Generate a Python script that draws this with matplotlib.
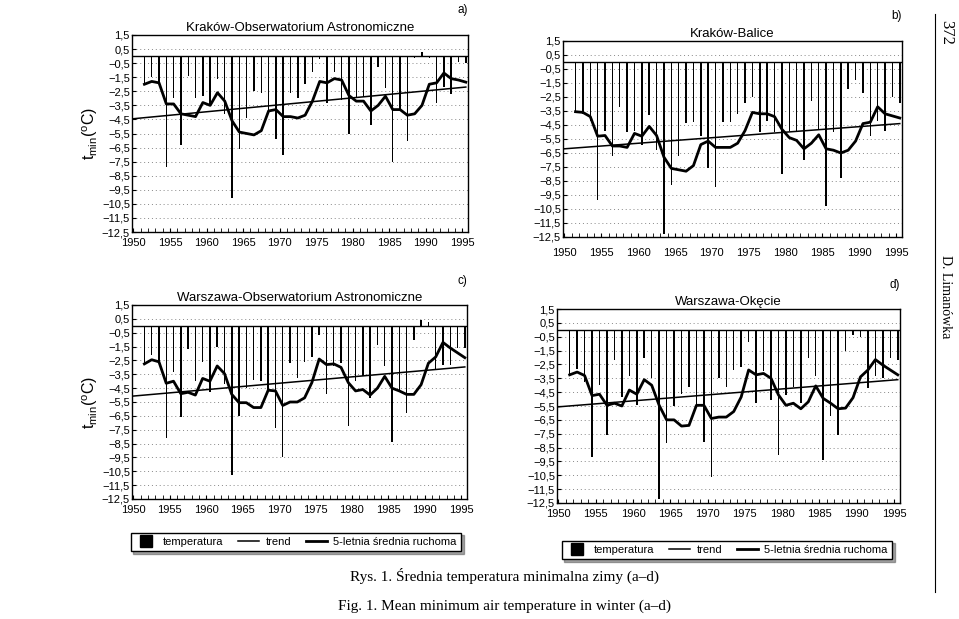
import matplotlib.pyplot as plt
import numpy as np
from matplotlib.lines import Line2D

plt.rcParams['font.family'] = ['Liberation Sans', 'DejaVu Sans']

# winters 1951..1995
years = np.arange(1951, 1996)

# a) Krakow - Obserwatorium Astronomiczne
temp_a = [-2.0, -1.5, -2.0, -7.9, -3.0, -6.3, -1.4, -3.0, -2.8, -3.4,
          -1.6, -4.1, -10.1, -6.6, -4.4, -2.5, -2.6, -3.9, -5.9, -7.0,
          -2.6, -3.0, -2.0, -1.1, -0.2, -3.3, -1.1, -3.1, -5.5, -2.9,
          -2.9, -4.9, -0.8, -2.3, -7.5, -3.9, -6.0, -0.1, 0.3, -0.1,
          -3.3, -2.2, -2.7, -0.4, -0.5]
ma_a = [-2.0, -1.8, -1.9, -3.4, -3.4, -4.1, -4.2, -4.3, -3.3, -3.5,
        -2.6, -3.2, -4.6, -5.4, -5.5, -5.6, -5.3, -3.9, -3.8, -4.3,
        -4.3, -4.4, -4.2, -3.2, -1.8, -1.9, -1.6, -1.7, -2.8, -3.2,
        -3.2, -3.9, -3.5, -2.85, -3.8, -3.8, -4.2, -4.1, -3.5, -2.0,
        -1.9, -1.2, -1.6, -1.7, -1.85]
trend_a = [-4.45, -2.2]

# b) Krakow - Balice
temp_b = [-3.55, -3.7, -4.2, -9.85, -4.9, -6.7, -3.2, -5.0, -4.9, -5.9,
          -3.8, -6.3, -12.3, -8.8, -6.7, -4.35, -4.25, -5.3, -7.6, -8.9,
          -4.3, -4.3, -3.7, -2.9, -2.5, -5.0, -4.2, -5.0, -8.0, -4.9,
          -4.9, -7.0, -2.8, -4.8, -10.3, -5.0, -8.3, -1.9, -1.3, -2.2,
          -5.3, -4.2, -4.9, -2.5, -2.9]
ma_b = [-3.55, -3.6, -3.9, -5.3, -5.25, -6.0, -6.0, -6.1, -5.1, -5.3,
        -4.6, -5.25, -6.8, -7.6, -7.7, -7.8, -7.4, -5.9, -5.65, -6.1,
        -6.1, -6.1, -5.8, -4.9, -3.6, -3.7, -3.7, -3.9, -4.8, -5.4,
        -5.6, -6.2, -5.8, -5.2, -6.2, -6.3, -6.5, -6.3, -5.65, -4.4,
        -4.3, -3.2, -3.7, -3.85, -4.0]
trend_b = [-6.2, -4.4]

# c) Warszawa - Obserwatorium Astronomiczne
temp_c = [-2.8, -2.1, -2.6, -8.1, -3.3, -6.6, -1.7, -4.0, -2.6, -4.8,
          -1.5, -4.2, -10.8, -6.5, -4.5, -3.9, -4.0, -4.8, -7.35, -9.5,
          -2.7, -3.8, -2.6, -2.25, -0.65, -4.9, -2.9, -2.7, -7.2, -4.0,
          -3.6, -5.2, -1.4, -2.9, -8.4, -4.6, -6.3, -1.0, 0.4, 0.25,
          -3.2, -2.8, -2.8, -1.6, -1.6]
ma_c = [-2.75, -2.45, -2.6, -4.15, -4.0, -4.9, -4.8, -5.0, -3.8, -4.0,
        -2.9, -3.45, -4.95, -5.55, -5.55, -5.9, -5.9, -4.65, -4.7, -5.75,
        -5.5, -5.5, -5.2, -4.1, -2.4, -2.8, -2.75, -3.0, -4.1, -4.7,
        -4.6, -5.0, -4.5, -3.65, -4.5, -4.7, -4.95, -4.95, -4.25, -2.7,
        -2.25, -1.2, -1.6, -1.95, -2.3]
trend_c = [-5.07, -2.97]

# d) Warszawa - Okecie
temp_d = [-3.25, -2.8, -3.75, -9.2, -4.0, -7.6, -2.15, -4.85, -3.35, -5.45,
          -2.0, -3.5, -12.2, -8.2, -5.5, -4.6, -4.15, -5.55, -8.1, -10.6,
          -3.5, -4.1, -2.9, -2.65, -0.9, -5.3, -3.0, -5.1, -9.05, -4.7,
          -4.1, -5.3, -2.0, -3.35, -9.4, -6.2, -7.6, -1.55, -0.35, -0.5,
          -4.2, -3.35, -3.5, -2.05, -2.2]
ma_d = [-3.25, -3.05, -3.3, -4.75, -4.65, -5.45, -5.3, -5.5, -4.35, -4.65,
        -3.6, -4.0, -5.45, -6.5, -6.5, -6.95, -6.9, -5.45, -5.45, -6.4,
        -6.3, -6.3, -5.9, -4.85, -2.9, -3.25, -3.15, -3.5, -4.7, -5.45,
        -5.3, -5.7, -5.2, -4.05, -4.95, -5.3, -5.7, -5.65, -4.9, -3.4,
        -2.9, -2.15, -2.55, -2.9, -3.25]
trend_d = [-5.56, -3.6]

yticks = np.arange(1.5, -13.0, -1.0)
xticks = np.arange(1950, 1996, 5)

W, H = 959, 619
fig = plt.figure(figsize=(W / 100, H / 100), dpi=100)


def px_axes(left, top, right, bottom):
    return fig.add_axes([left / W, 1 - bottom / H, (right - left) / W, (bottom - top) / H])


def panel(ax, temp, ma, trend, title, tag, ylabel, xpad):
    x = years + 0.5
    ax.bar(x, temp, width=0.2, color='black', zorder=3)
    ax.plot([1950, x[-1]], trend, color='black', lw=1.1, zorder=4)
    ax.plot(x, ma, color='black', lw=2.0, zorder=5)
    ax.axhline(0, color='black', lw=1.0, zorder=4)
    ax.set_xlim(1949.8, 1995.8)
    ax.set_ylim(-12.5, 1.5)
    ax.set_yticks(yticks)
    ax.set_yticklabels([f'{v:.1f}'.replace('.', ',').replace('-', '\u2212') for v in yticks])
    ax.set_xticks(xticks)
    ax.set_xticks(np.arange(1950, 1996), minor=True)
    ax.tick_params(axis='both', labelsize=8, direction='in', length=3, pad=1.5)
    ax.tick_params(axis='x', pad=xpad)
    ax.tick_params(axis='x', which='minor', direction='in', length=3)
    for v in yticks[1:-1]:
        ax.axhline(v, color='#888888', lw=0.7, ls=(0, (1, 3)), zorder=1)
    for s in ax.spines.values():
        s.set_linewidth(1.0)
    ax.set_title(title, fontsize=9.5, pad=3)
    ax.text(1.0, 1.11, tag, transform=ax.transAxes, fontsize=8.5, ha='right')
    if ylabel:
        ax.set_ylabel(r'$\mathregular{t_{min}(^oC)}$', fontsize=11.5, labelpad=1)


ax_a = px_axes(132, 35, 468, 232)
panel(ax_a, temp_a, ma_a, trend_a, 'Kraków-Obserwatorium Astronomiczne', 'a)', True, 4)
ax_b = px_axes(563, 41, 902, 237)
panel(ax_b, temp_b, ma_b, trend_b, 'Kraków-Balice', 'b)', False, 8)
ax_c = px_axes(132, 305, 467, 499)
panel(ax_c, temp_c, ma_c, trend_c, 'Warszawa-Obserwatorium Astronomiczne', 'c)', True, 4)
ax_d = px_axes(557, 309, 900, 503)
panel(ax_d, temp_d, ma_d, trend_d, 'Warszawa-Okęcie', 'd)', False, 4)

handles = [Line2D([], [], color='black', ls='none', marker='s', markersize=9),
           Line2D([], [], color='black', lw=1.1),
           Line2D([], [], color='black', lw=2.0)]
labels = ['temperatura', 'trend', '5-letnia średnia ruchoma']
for cx, cy in [(296, 542), (727, 550)]:
    fig.legend(handles, labels, loc='center', bbox_to_anchor=(cx / W, 1 - cy / H),
               ncol=3, fontsize=8, frameon=True, fancybox=False, shadow=True,
               edgecolor='black', handlelength=1.9, handletextpad=0.6,
               columnspacing=1.3, borderpad=0.4)

fig.text(505 / W, 1 - 576 / H, 'Rys. 1. Średnia temperatura minimalna zimy (a–d)',
         family='Liberation Serif', fontsize=11, ha='center', va='center')
fig.text(505 / W, 1 - 606 / H, 'Fig. 1. Mean minimum air temperature in winter (a–d)',
         family='Liberation Serif', fontsize=11, ha='center', va='center')

fig.add_artist(Line2D([935 / W, 935 / W], [1 - 14 / H, 1 - 592 / H], color='black', lw=0.8))
fig.text(946 / W, 1 - 32 / H, '372', family='Liberation Serif', fontsize=12,
         rotation=-90, ha='center', va='center')
fig.text(946 / W, 1 - 297 / H, 'D. Limanówka', family='Liberation Serif', fontsize=10,
         rotation=-90, ha='center', va='center')

fig.savefig('out.png', dpi=100)
